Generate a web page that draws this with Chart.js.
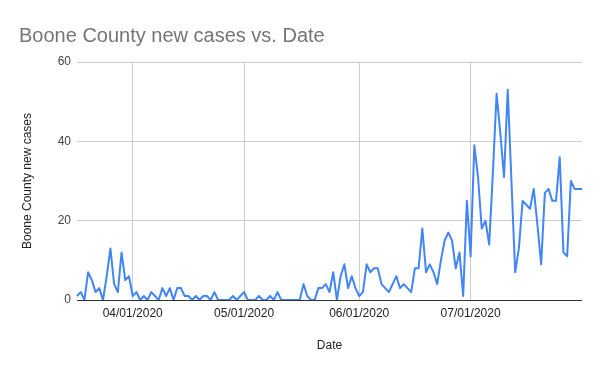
<!DOCTYPE html>
<html>
<head>
<meta charset="utf-8">
<script src="https://cdn.jsdelivr.net/npm/chart.js@4"></script>
<style>
  html, body { margin: 0; padding: 0; background: #fff; }
</style>
</head>
<body>
<canvas id="casesChart" width="600" height="371"></canvas>
<script>
// daily new cases, one array per month
const marchCases = [1, 2, 0, 7, 5, 2, 3, 0, 6, 13, 4, 2, 12, 5, 6]; // 03/17 - 03/31
const aprilCases = [1, 2, 0, 1, 0, 2, 1, 0, 3, 1, 3, 0, 3, 3, 1, 1, 0, 1, 0, 1, 1, 0, 2, 0, 0, 0, 0, 1, 0, 1];
const mayCases = [2, 0, 0, 0, 1, 0, 0, 1, 0, 2, 0, 0, 0, 0, 0, 0, 4, 1, 0, 0, 3, 3, 4, 2, 7, 0, 6, 9, 3, 6, 3];
const juneCases = [1, 2, 9, 7, 8, 8, 4, 3, 2, 4, 6, 3, 4, 3, 2, 8, 8, 18, 7, 9, 7, 4, 10, 15, 17, 15, 8, 12, 1, 25];
const julyCases = [11, 39, 31, 18, 20, 14, 32, 52, 42, 31, 53, 30, 7, 13, 25, 24, 23, 28, 19, 9, 27, 28, 25, 25, 36, 12, 11, 30, 28, 28, 28];

const months = [
    { month: 3, firstDay: 17, values: marchCases },
    { month: 4, firstDay: 1, values: aprilCases },
    { month: 5, firstDay: 1, values: mayCases },
    { month: 6, firstDay: 1, values: juneCases },
    { month: 7, firstDay: 1, values: julyCases }
];

const monthTicks = ['04/01/2020', '05/01/2020', '06/01/2020', '07/01/2020'];
const yTicks = [0, 20, 40, 60];

function pad(n) {
    return String(n).padStart(2, '0');
}

const labels = [];
const cases = [];
months.forEach(m => {
    m.values.forEach((v, k) => {
        labels.push(`${pad(m.month)}/${pad(m.firstDay + k)}/2020`);
        cases.push(v);
    });
});

Chart.defaults.font.family = 'Arial, "Liberation Sans", sans-serif';

const ctx = document.getElementById('casesChart').getContext('2d');

new Chart(ctx, {
    type: 'line',
    data: {
        labels: labels,
        datasets: [{
            label: 'Boone County new cases',
            data: cases,
            borderColor: '#4285F4',
            borderWidth: 2,
            borderJoinStyle: 'round',
            pointRadius: 0,
            tension: 0,
            fill: false
        }]
    },
    options: {
        responsive: false,
        animation: false,
        layout: {
            padding: { left: 19, right: 18, top: 0, bottom: 0 }
        },
        plugins: {
            legend: { display: false },
            tooltip: { enabled: false },
            title: {
                display: true,
                text: 'Boone County new cases vs. Date',
                align: 'start',
                color: '#757575',
                font: { size: 20, weight: 'normal' },
                padding: { top: 24, bottom: 14 }
            }
        },
        scales: {
            x: {
                offset: false,
                border: { display: false },
                grid: {
                    drawTicks: false,
                    lineWidth: 1,
                    color: c => (c.tick && monthTicks.includes(labels[c.tick.value])) ? '#cccccc' : 'rgba(0,0,0,0)'
                },
                ticks: {
                    autoSkip: false,
                    maxRotation: 0,
                    minRotation: 0,
                    padding: 6,
                    color: '#222',
                    font: { size: 12 },
                    callback: function(value) {
                        const label = this.getLabelForValue(value);
                        return monthTicks.includes(label) ? label : '';
                    }
                },
                title: {
                    display: true,
                    text: 'Date',
                    color: '#222',
                    font: { size: 12 },
                    padding: { top: 4, bottom: 18 }
                },
                afterFit: scale => { scale.height = 71; }
            },
            y: {
                min: 0,
                max: 60,
                border: { display: false },
                afterBuildTicks: scale => {
                    scale.ticks = yTicks.map(v => ({ value: v }));
                },
                grid: {
                    drawTicks: false,
                    lineWidth: 1,
                    color: c => (c.tick && c.tick.value === 0) ? '#333333' : '#cccccc'
                },
                ticks: {
                    padding: 6,
                    color: '#444',
                    font: { size: 12 }
                },
                title: {
                    display: true,
                    text: 'Boone County new cases',
                    color: '#222',
                    font: { size: 12 },
                    padding: { top: 1, bottom: 0 }
                },
                afterFit: scale => { scale.width = 58; }
            }
        }
    }
});
</script>
</body>
</html>
